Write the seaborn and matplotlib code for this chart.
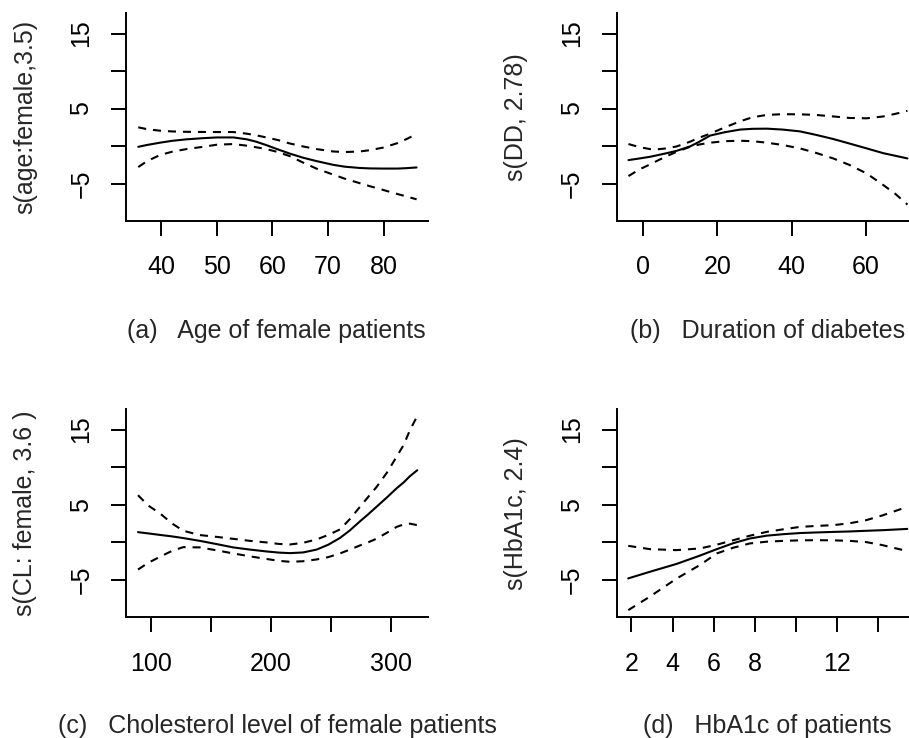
import numpy as np
import pandas as pd
import matplotlib
matplotlib.use("Agg")
import matplotlib.pyplot as plt
import seaborn as sns

# ---------------- data ----------------
# (a) age of female patients
a_x = [35.9, 37.5, 39.8, 42.0, 44.6, 47.5, 50.0, 53.0, 55.4, 57.0, 58.9, 61.0,
       63.1, 65.5, 67.9, 70.9, 73.0, 75.7, 77.5, 79.9, 82.5, 84.0, 85.9]
a_fit = [-0.1, 0.15, 0.45, 0.7, 0.9, 1.05, 1.15, 1.15, 0.9, 0.6, 0.13, -0.45,
         -1.0, -1.55, -2.0, -2.5, -2.75, -2.92, -2.98, -3.0, -3.0, -2.95, -2.85]
a_up = [2.5, 2.25, 2.05, 1.95, 1.9, 1.88, 1.87, 1.87, 1.65, 1.45, 1.15, 0.8,
        0.35, -0.05, -0.4, -0.72, -0.8, -0.72, -0.55, -0.2, 0.4, 0.9, 1.6]
a_lo = [-2.8, -2.0, -1.2, -0.75, -0.4, -0.1, 0.18, 0.27, 0.05, -0.15, -0.4, -0.8,
        -1.34, -2.2, -3.0, -3.8, -4.35, -4.95, -5.35, -5.85, -6.4, -6.7, -7.1]

# (b) duration of diabetes
b_x = [-4.0, -1.0, 1.8, 4.0, 6.3, 9.0, 12.6, 15.0, 18.0, 22.0, 26.1, 29.5, 33.3,
       37.5, 42.2, 46.5, 51.2, 55.5, 60.2, 64.7, 68.0, 71.2]
b_fit = [-1.87, -1.65, -1.43, -1.2, -0.95, -0.63, -0.05, 0.55, 1.4, 1.85, 2.2, 2.3,
         2.32, 2.2, 1.96, 1.5, 0.94, 0.35, -0.31, -0.95, -1.3, -1.65]
b_up = [0.27, -0.15, -0.4, -0.42, -0.31, -0.05, 0.58, 1.1, 1.65, 2.5, 3.3, 3.85,
        4.15, 4.25, 4.23, 4.15, 3.95, 3.75, 3.7, 3.95, 4.3, 4.7]
b_lo = [-4.0, -3.1, -2.45, -1.9, -1.35, -0.76, -0.1, 0.2, 0.45, 0.65, 0.71, 0.65,
        0.45, 0.15, -0.31, -0.9, -1.65, -2.5, -3.65, -5.2, -6.4, -7.8]

# (c) cholesterol level of female patients
c_x = [89.4, 98.0, 107.8, 118.0, 127.2, 141.0, 155.0, 168.8, 182.8, 196.7, 207.0,
       216.1, 227.0, 238.3, 248.0, 257.8, 266.0, 274.4, 281.0, 288.3, 297.0, 305.0,
       311.0, 316.0, 322.2]
c_fit = [1.37, 1.2, 1.0, 0.8, 0.58, 0.21, -0.22, -0.66, -0.95, -1.2, -1.35, -1.42,
         -1.33, -0.95, -0.3, 0.6, 1.6, 2.8, 3.7, 4.75, 6.0, 7.2, 8.0, 8.8, 9.6]
c_up = [6.28, 4.9, 3.85, 2.5, 1.55, 0.98, 0.74, 0.48, 0.21, 0.0, -0.2, -0.27,
        -0.05, 0.4, 1.0, 1.73, 3.1, 4.73, 6.0, 7.38, 9.3, 11.4, 13.0, 14.9, 16.8]
c_lo = [-3.6, -2.7, -1.9, -1.1, -0.62, -0.66, -1.05, -1.46, -1.85, -2.2, -2.45,
        -2.57, -2.5, -2.26, -1.95, -1.46, -0.95, -0.4, 0.0, 0.5, 1.3, 2.07, 2.4,
        2.5, 2.3]

# (d) HbA1c of patients
d_x = [1.85, 2.9, 4.2, 5.33, 6.15, 6.95, 7.76, 8.57, 9.38, 10.2, 11.0, 11.8, 12.6,
       13.4, 14.2, 15.4]
d_fit = [-4.78, -3.9, -2.85, -1.75, -0.89, -0.1, 0.53, 0.9, 1.1, 1.25, 1.33, 1.4,
         1.46, 1.55, 1.63, 1.8]
d_up = [-0.45, -0.89, -1.02, -0.8, -0.3, 0.3, 0.9, 1.4, 1.75, 2.07, 2.2, 2.3, 2.55,
        2.96, 3.6, 4.73]
d_lo = [-9.0, -7.2, -4.8, -3.0, -1.46, -0.7, -0.13, 0.1, 0.21, 0.28, 0.3, 0.28,
        0.21, 0.05, -0.36, -1.15]

ylabels = ["s(age:female,3.5)", "s(DD, 2.78)", "s(CL: female, 3.6 )", "s(HbA1c, 2.4)"]
subtitles = ["(a)   Age of female patients", "(b)   Duration of diabetes",
             "(c)   Cholesterol level of female patients", "(d)   HbA1c of patients"]
xticks = [[40, 50, 60, 70, 80], [0, 20, 40, 60], [100, 150, 200, 250, 300],
          [2, 4, 6, 8, 10, 12, 14]]
xticklabels = [["40", "50", "60", "70", "80"], ["0", "20", "40", "60"],
               ["100", "", "200", "", "300"], ["2", "4", "6", "8", "", "12", ""]]
yticks = [-5, 0, 5, 10, 15]
yticklabels = ["\u22125", "", "5", "", "15"]

# ---------------- styling ----------------
sns.set_style("ticks")
plt.rcParams["font.family"] = ["Liberation Sans", "DejaVu Sans"]
plt.rcParams["lines.scale_dashes"] = False

W, H = 909, 738
fig = plt.figure(figsize=(W / 100, H / 100), dpi=100)

def px_rect(l, t, r, b):
    return [l / W, 1 - b / H, (r - l) / W, (b - t) / H]

rects = [px_rect(126, 13.3, 428.3, 220.7), px_rect(616.7, 13.3, 918.2, 220.7),
         px_rect(126, 409.3, 428.3, 617.3), px_rect(616.7, 409.3, 918.2, 617.3)]
xlims = [(33.7, 88.0), (-7.17, 74.1), (79.4, 331.4), (1.29, 15.93)]
ylim = (-9.95, 17.7)
sub_cx = [276.5, 767.3, 277.0, 767.5]
sub_base = [338.3, 338.3, 732.7, 732.7]

data = [(a_x, a_fit, a_up, a_lo), (b_x, b_fit, b_up, b_lo),
        (c_x, c_fit, c_up, c_lo), (d_x, d_fit, d_up, d_lo)]

FS = 18
LW = 1.5
dash = (0, (5.8, 5.0))

for i in range(4):
    ax = fig.add_axes(rects[i])
    x, fit, up, lo = data[i]
    df = pd.DataFrame({"x": x, "fit": fit, "up": up, "lo": lo})
    sns.lineplot(data=df, x="x", y="fit", ax=ax, color="black", linewidth=LW,
                 estimator=None, sort=False)
    sns.lineplot(data=df, x="x", y="up", ax=ax, color="black", linewidth=LW,
                 linestyle=dash, estimator=None, sort=False)
    sns.lineplot(data=df, x="x", y="lo", ax=ax, color="black", linewidth=LW,
                 linestyle=dash, estimator=None, sort=False)
    ax.set_xlim(*xlims[i])
    ax.set_ylim(*ylim)
    ax.set_xticks(xticks[i])
    ax.set_xticklabels(xticklabels[i])
    ax.set_yticks(yticks)
    ax.set_yticklabels(yticklabels, rotation=90, va="center", ha="right")
    for s in ["top", "right"]:
        ax.spines[s].set_visible(False)
    for s in ["left", "bottom"]:
        ax.spines[s].set_linewidth(1.4)
        ax.spines[s].set_color("black")
    ax.tick_params(axis="x", length=10.8, width=1.4, pad=14, labelsize=FS, colors="black")
    ax.tick_params(axis="y", length=10.5, width=1.4, pad=13, labelsize=FS, colors="black")
    ax.set_xlabel("")
    ax.set_ylabel(ylabels[i], fontsize=FS)
    ax.yaxis.label.set_va("center")
    ax.yaxis.set_label_coords(-101 / 302.3, 0.5)
    fig.text(sub_cx[i] / W, 1 - sub_base[i] / H, subtitles[i], fontsize=FS,
             ha="center", va="baseline")

fig.savefig("out.png", dpi=100)
